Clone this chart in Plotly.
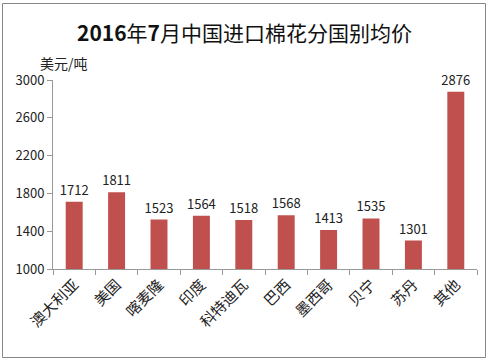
import plotly.graph_objects as go

categories = ["澳大利亚", "美国", "喀麦隆", "印度", "科特迪瓦", "巴西", "墨西哥", "贝宁", "苏丹", "其他"]
values = [1712, 1811, 1523, 1564, 1518, 1568, 1413, 1535, 1301, 2876]
y_ticks = [1000, 1400, 1800, 2200, 2600, 3000]

W, H = 488, 361
L, R, T, B = 53, 11, 80, 92
pw, ph = W - L - R, H - T - B

def px_x(x):
    return (x - L) / pw

def px_y(y):
    return (H - B - y) / ph

fig = go.Figure(go.Bar(
    x=categories, y=values,
    marker=dict(color="#C0504D", line=dict(width=0)),
    text=[str(v) for v in values], textposition="outside",
    constraintext="none",
    textfont=dict(size=13, color="#222", family="Noto Sans CJK SC"),
    cliponaxis=False,
))

fig.update_layout(
    width=W, height=H,
    margin=dict(l=L, r=R, t=T, b=B),
    paper_bgcolor="white", plot_bgcolor="white",
    bargap=0.6,
    showlegend=False,
    font=dict(family="Noto Sans CJK SC", size=12, color="#222"),
    xaxis=dict(
        type="category", tickangle=-45, tickson="boundaries",
        ticks="outside", ticklen=5, tickcolor="#999",
        showline=True, linecolor="#999", linewidth=1,
        tickfont=dict(size=15, color="#222", family="Noto Sans CJK SC"),
        showgrid=False,
    ),
    yaxis=dict(
        range=[1000, 3000], tickvals=y_ticks,
        ticks="outside", ticklen=5, tickcolor="#999",
        showline=True, linecolor="#999", linewidth=1,
        showgrid=False, zeroline=False,
        tickfont=dict(size=13, color="#222"),
    ),
    annotations=[
        dict(text="<b>2016</b>年<b>7</b>月中国进口棉花分国别均价", xref="paper", yref="paper",
             x=px_x(244), y=px_y(32), xanchor="center", yanchor="middle",
             showarrow=False, font=dict(size=21, color="#111", family="Noto Sans CJK SC")),
        dict(text="美元/吨", xref="paper", yref="paper",
             x=px_x(38), y=px_y(63), xanchor="left", yanchor="middle",
             showarrow=False, font=dict(size=14, color="#222", family="Noto Sans CJK SC")),
    ],
    shapes=[
        dict(type="rect", xref="paper", yref="paper",
             x0=px_x(2.5), x1=px_x(485.5), y0=px_y(357.5), y1=px_y(3.5),
             line=dict(color="#888", width=1), fillcolor="rgba(0,0,0,0)"),
    ],
)

fig.write_html("out.html", config={"displayModeBar": False},
               post_script="document.body.style.margin='0';")
